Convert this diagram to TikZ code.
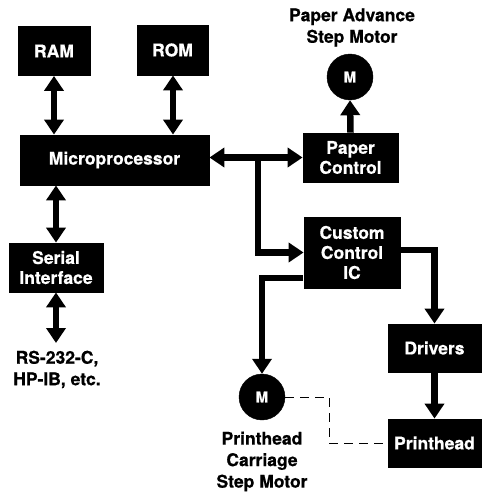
\documentclass[tikz,border=0pt]{standalone}
\usepackage{fontspec}
\setmainfont{TeX Gyre Heros}[BoldFeatures={FakeBold=0.6}]
\usetikzlibrary{arrows.meta}
\begin{document}
\begin{tikzpicture}[x=1pt,y=-1pt,
  blk/.style={draw=black,fill=black,text=white,font=\bfseries\fontsize{17.5}{20}\selectfont,
    align=center,inner sep=0pt,line width=0.8pt},
  motor/.style={circle,draw=black,fill=black,text=white,font=\bfseries\fontsize{15}{17}\selectfont,
    minimum size=46pt,inner sep=0pt},
  lbl/.style={font=\bfseries\fontsize{17.5}{21.5}\selectfont,align=center,inner sep=0pt},
  bus/.style={line width=6.5pt,line join=miter},
  tip/.style={-{Triangle[width=19pt,length=15pt]}},
  dtip/.style={{Triangle[width=19pt,length=15pt]}-{Triangle[width=19pt,length=15pt]}},
  link/.style={draw,line width=0.9pt,dash pattern=on 9pt off 6pt}]
\useasboundingbox (0,0) rectangle (482,495);

% blocks
\node[blk,minimum width=72pt,minimum height=49pt] (ram) at (54,51) {RAM};
\node[blk,minimum width=71pt,minimum height=50pt] (rom) at (172.5,50) {ROM};
\node[blk,minimum width=189pt,minimum height=50pt] (cpu) at (114.5,160) {Microprocessor};
\node[blk,minimum width=95pt,minimum height=49pt] (pctl) at (350.5,157.5) {Paper\\Control};
\node[blk,minimum width=96pt,minimum height=71pt] (cic) at (352,252.5) {Custom\\Control\\IC};
\node[blk,minimum width=93pt,minimum height=48pt] (drv) at (434.5,348) {Drivers};
\node[blk,minimum width=93pt,minimum height=48pt] (phd) at (434.5,443) {Printhead};
\node[blk,minimum width=94pt,minimum height=49pt] (ser) at (56,267.5) {Serial\\Interface};

% motors
\node[motor] (m1) at (350,77) {M};
\node[motor] (m2) at (262,397) {M};

% labels
\node[lbl] (m1lbl) at (352,27.5) {Paper Advance\\Step Motor};
\node[lbl] (m2lbl) at (262,461.5) {Printhead\\Carriage\\Step Motor};
\node[lbl] (io) at (57,369.5) {RS-232-C,\\HP-IB, etc.};

% junction points
\coordinate (tee) at (258,157.5);
\coordinate (cicl) at (303,278);
\coordinate (cicr) at (400,250);
\coordinate (mid) at (329,397);

% connectors
\draw[bus,dtip] (ram.south) -- (ram.south |- cpu.north);
\draw[bus,dtip] (rom.south -| 173,0) -- (173,0 |- cpu.north);
\draw[bus,dtip] (56,0 |- cpu.south) -- (56,0 |- ser.north);
\draw[bus,dtip] (56,0 |- ser.south) -- (56,343);
\draw[bus,dtip] (cpu.east |- pctl.west) -- (pctl.west);
\draw[bus,tip] (pctl.north) -- (m1.south);
\draw[bus,tip] (tee) |- (cic.west);
\draw[bus,tip] (cicl) -| (m2.north);
\draw[bus,tip] (cicr) -| (drv.north);
\draw[bus,tip] (drv.south) -- (phd.north);
\draw[link] (m2.east) -- (mid) |- (phd.west);
\end{tikzpicture}
\end{document}
